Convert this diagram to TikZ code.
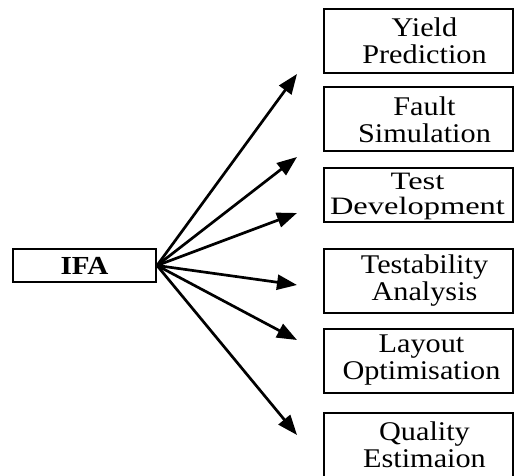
\documentclass[tikz,border=0pt]{standalone}
\usepackage{fontspec}
\setmainfont[FakeStretch=1.12]{Liberation Serif}
\usetikzlibrary{arrows.meta}
\begin{document}
\begin{tikzpicture}[x=1pt,y=1pt,
  box/.style={draw, line width=2pt, minimum width=189pt, minimum height=64pt, inner sep=0pt},
  boxtext/.style={align=center, font=\fontsize{27}{27}\selectfont, inner sep=0pt},
  arr/.style={line width=2.7pt, -{Triangle[length=20pt,width=15pt]}}]
\useasboundingbox (0,0) rectangle (515,475);
\node[draw, line width=2pt, minimum width=143pt, minimum height=33pt, inner sep=0pt,
  font=\bfseries\fontsize{26}{26}\selectfont] (ifa) at (84.5,209.5) {IFA};
\node[box] (b1) at (418.5,434) {};
\node[box] (b2) at (418.5,355.5) {};
\node[box, minimum height=54pt] (b3) at (418.5,280) {};
\node[box] (b4) at (418.5,194) {};
\node[box] (b5) at (418.5,114.5) {};
\node[box] (b6) at (418.5,30) {};
\node[boxtext] (l1) at ([xshift=6pt]b1.center) {Yield\\Prediction};
\node[boxtext] (l2) at ([xshift=6pt]b2.center) {Fault\\Simulation};
\node[boxtext, font=\fontsize{25}{25}\selectfont, xscale=1.16, transform shape] (l3) at ([xshift=-1pt,yshift=-1pt]b3.center) {Test\\Development};
\node[boxtext] (l4) at ([xshift=6pt]b4.center) {Testability\\Analysis};
\node[boxtext] (l5) at ([xshift=3pt]b5.center) {Layout\\Optimisation};
\node[boxtext] (l6) at ([xshift=6pt]b6.center) {Quality\\Estimaion};
\coordinate (t1) at (297,401);
\coordinate (t2) at (297,318);
\coordinate (t3) at (297,262);
\coordinate (t4) at (297,190);
\coordinate (t5) at (297,135);
\coordinate (t6) at (297,40);
\foreach \t in {t1,t2,t3,t4,t5,t6} \draw[arr] (ifa.east) -- (\t);
\end{tikzpicture}
\end{document}
